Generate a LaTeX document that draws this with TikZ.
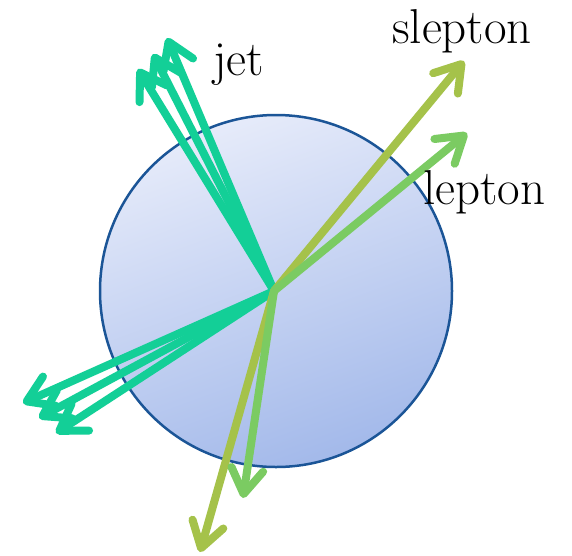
\documentclass[tikz,border=0pt]{standalone}
\usetikzlibrary{arrows.meta}
\definecolor{jetcol}{HTML}{13CF97}
\definecolor{slepcol}{HTML}{A5C24A}
\definecolor{lepcol}{HTML}{7BCB62}
\definecolor{rimcol}{HTML}{1B5597}
\definecolor{balllight}{HTML}{E6EBFA}
\definecolor{balldark}{HTML}{A3B9EA}
\begin{document}
\begin{tikzpicture}[x=1pt,y=-1pt,
  vec/.style={line width=8pt, line cap=round, line join=round,
    -{Straight Barb[length=25pt,width=32pt,line cap=round,line join=round]}},
  jetarrow/.style={vec, draw=jetcol},
  sleparrow/.style={vec, draw=slepcol},
  leparrow/.style={vec, draw=lepcol},
  lbl/.style={anchor=base west, inner sep=0pt, font=\fontsize{49}{50}\selectfont}]
\useasboundingbox (0,0) rectangle (572,555);
\fill[white] (0,0) rectangle (572,555);
\node[circle, minimum size=352pt, inner sep=0pt, draw=rimcol, line width=2.5pt,
  left color=balllight, right color=balldark, shading angle=20] (ball) at (276,291) {};
\coordinate (O) at (274,291);
% jets top
\coordinate (j1) at (167,38);
\coordinate (j2) at (153,54);
\coordinate (j3) at (138,69);
% jets lower left
\coordinate (j4) at (23,403);
\coordinate (j5) at (39,418);
\coordinate (j6) at (56,433);
\draw[jetarrow] (O) -- (j1);
\draw[jetarrow] (O) -- (j2);
\draw[jetarrow] (O) -- (j3);
\draw[jetarrow] (O) -- (j4);
\draw[jetarrow] (O) -- (j5);
\draw[jetarrow] (O) -- (j6);
% slepton / lepton
\coordinate (s1) at (464,61);
\coordinate (s2) at (200,552);
\coordinate (l1) at (467,133);
\coordinate (l2) at (243,498);
\draw[sleparrow] (O) -- (s1);
\draw[sleparrow] (O) -- (s2);
\draw[leparrow] (O) -- (l1);
\draw[leparrow] (O) -- (l2);
% labels
\node[lbl] (tjet) at (213,75) {jet};
\node[lbl] (tslep) at (392,43) {slepton};
\node[lbl] (tlep) at (423,204) {lepton};
\end{tikzpicture}
\end{document}
